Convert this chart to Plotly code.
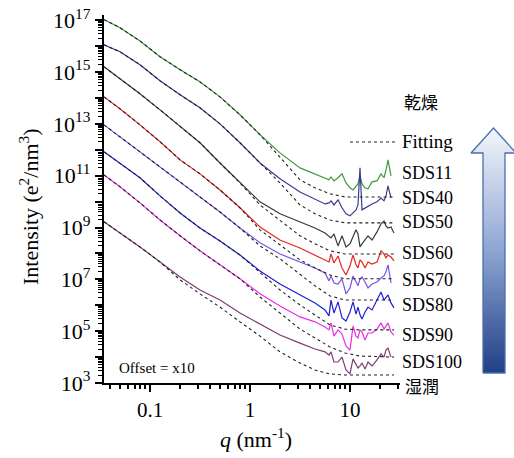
import plotly.graph_objects as go

W, H = 514, 458

# ---- data (q in nm^-1, intensity given as log10 of displayed value, offset x10) ----
q = [0.0347, 0.0501, 0.0794, 0.126, 0.200, 0.316, 0.501, 0.794, 1.259, 1.995, 3.162, 4.467, 5.623,
     6.166, 6.457, 6.918, 7.586, 8.318, 9.120, 10.00, 10.72, 11.48, 12.02, 12.59, 13.18, 14.13,
     15.14, 16.60, 18.62, 20.42, 21.88, 22.91, 23.99, 25.70, 27.54]

sds11 = [17.02, 16.71, 16.20, 15.59, 15.09, 14.62, 14.04, 13.35, 12.58, 11.88, 11.30, 11.07, 10.92,
         10.84, 10.95, 10.80, 10.92, 11.07, 10.72, 10.53, 10.45, 10.61, 10.68, 10.99, 10.68, 10.53,
         10.49, 10.76, 10.80, 11.07, 10.92, 11.22, 11.61, 10.99, None]
sds40 = [16.05, 15.78, 15.28, 14.66, 14.12, 13.62, 13.00, 12.27, 11.49, 10.88, 10.37, 10.10, 9.91,
         9.95, 10.03, 9.87, 10.07, 9.76, 9.53, 9.45, 9.56, 9.68, 9.87, 11.30, 9.68, 9.76,
         9.83, 9.91, 9.99, 10.14, 10.03, 10.22, 10.61, 10.14, None]
sds50 = [15.20, 14.74, 14.16, 13.54, 12.92, 12.27, 11.49, 10.72, 9.99, 9.53, 9.22, 8.98, 8.79,
         8.68, 8.60, 8.75, 8.29, 8.68, 8.25, 8.37, 8.68, 8.91, 8.75, 8.25, 8.37, 8.52,
         8.68, 8.52, 8.83, 9.14, 9.25, 9.06, 8.98, 9.02, 8.79]
sds60 = [14.04, 13.58, 12.96, 12.31, 11.61, 11.07, 10.45, 9.76, 9.02, 8.52, 8.21, 7.94, 7.75,
         7.67, 7.98, 7.63, 7.90, 7.44, 7.17, 7.52, 7.94, 7.56, 7.44, 7.75, 7.67, 7.44,
         7.67, 7.59, 7.67, 8.10, 7.98, 7.83, 7.94, 7.86, 7.71]
sds70 = [12.96, 12.50, 11.92, 11.34, 10.76, 10.18, 9.60, 8.98, 8.41, 7.98, 7.67, 7.44, 7.25,
         6.94, 7.13, 6.86, 6.82, 7.02, 6.44, 6.67, 7.13, 6.86, 6.75, 7.02, 7.09, 6.90,
         6.67, 6.82, 6.90, 7.05, 7.13, 7.29, 7.56, 6.86, None]
sds80 = [11.92, 11.49, 10.92, 10.22, 9.56, 8.98, 8.48, 7.94, 7.32, 6.82, 6.40, 6.09, 5.82,
         5.59, 6.20, 5.70, 6.13, 5.51, 5.39, 5.74, 6.13, 5.66, 5.93, 5.63, 5.47, 5.74,
         5.93, 5.82, 6.20, 6.51, 6.20, 6.32, 6.40, 6.09, 5.90]
sds90 = [11.03, 10.57, 9.95, 9.29, 8.68, 8.10, 7.56, 7.02, 6.44, 5.97, 5.55, 5.36, 5.16,
         5.05, 5.32, 4.81, 5.05, 4.89, 4.43, 4.27, 5.20, 4.81, 4.74, 5.05, 4.97, 4.66,
         4.93, 4.93, 5.08, 5.32, 5.08, 5.20, 5.32, 4.97, 4.85]
sds100 = [9.22, 8.79, 8.25, 7.67, 7.09, 6.59, 6.20, 5.70, 5.28, 4.85, 4.54, 4.31, 4.20,
          4.08, 4.20, 3.81, 3.81, 4.00, 3.50, 3.35, 3.93, 3.73, 3.58, 3.66, 3.77, 3.54,
          3.81, 3.66, 3.89, 4.12, 4.00, 4.27, 4.35, 4.00, None]

q_fit = [0.0347, 0.0501, 0.0794, 0.126, 0.200, 0.316, 0.501, 0.794, 1.259, 1.995, 3.162, 4.467,
         6.310, 8.913, 12.59, 27.54]
fit11 = [17.02, 16.71, 16.20, 15.59, 15.09, 14.62, 14.04, 13.35, 12.58, 11.73, 10.84, 10.53, 10.30, 10.18, 10.18, 10.18]
fit40 = [16.05, 15.78, 15.28, 14.66, 14.12, 13.62, 13.00, 12.27, 11.49, 10.72, 9.87, 9.53, 9.29, 9.18, 9.18, 9.18]
fit50 = [15.20, 14.74, 14.16, 13.54, 12.92, 12.27, 11.49, 10.72, 9.87, 9.29, 8.68, 8.37, 8.10, 7.98, 7.98, 7.98]
fit60 = [14.04, 13.58, 12.96, 12.31, 11.61, 11.07, 10.45, 9.76, 8.91, 8.33, 7.75, 7.44, 7.17, 7.02, 7.02, 7.02]
fit70 = [12.96, 12.50, 11.92, 11.34, 10.76, 10.18, 9.60, 8.98, 8.29, 7.79, 7.21, 6.75, 6.36, 6.20, 6.20, 6.20]
fit80 = [11.92, 11.49, 10.92, 10.22, 9.56, 8.98, 8.48, 7.94, 7.25, 6.59, 6.01, 5.63, 5.24, 5.08, 5.05, 5.05]
fit90 = [11.03, 10.57, 9.95, 9.29, 8.68, 8.10, 7.56, 7.02, 6.32, 5.70, 5.08, 4.74, 4.39, 4.16, 4.04, 4.00]
fit100 = [9.22, 8.79, 8.25, 7.67, 6.98, 6.44, 5.93, 5.36, 4.81, 4.20, 3.77, 3.50, 3.35, 3.31, 3.31, 3.31]

names = ["SDS11", "SDS40", "SDS50", "SDS60", "SDS70", "SDS80", "SDS90", "SDS100"]
series = [sds11, sds40, sds50, sds60, sds70, sds80, sds90, sds100]
fits = [fit11, fit40, fit50, fit60, fit70, fit80, fit90, fit100]
colors = ["#3f9b3f", "#3b3b8f", "#3a3a3a", "#e8261f", "#7b52e6", "#1f1fd6", "#e62ee6", "#7d3c74"]
label_y = [173, 198, 222, 253, 280, 305, 335, 362]  # pixel rows of the right-hand labels

x_ticks = [0.1, 1, 10]
x_ticktext = ["0.1", "1", "10"]
y_exps = list(range(3, 18))

# arrow outline in pixel coordinates of the page
arrow_x = [483, 483, 471, 493.5, 516, 505, 505, 483]
arrow_y = [373, 153, 153, 128, 153, 153, 373, 373]


def px(x):
    return x / W


def py(y):
    return 1 - y / H


def tolin(vals):
    return [None if v is None else 10 ** v for v in vals]


fig = go.Figure()

for s, c in zip(series, colors):
    fig.add_trace(go.Scatter(x=q, y=tolin(s), mode="lines", line=dict(color=c, width=1.2),
                             connectgaps=False, showlegend=False, hoverinfo="skip"))
for f in fits:
    fig.add_trace(go.Scatter(x=q_fit, y=tolin(f), mode="lines",
                             line=dict(color="#222222", width=1.1, dash="3px,3px"),
                             showlegend=False, hoverinfo="skip"))

# gradient arrow on an overlay pixel-space axis
fig.add_trace(go.Scatter(x=arrow_x, y=arrow_y, xaxis="x2", yaxis="y2", mode="lines",
                         fill="toself", line=dict(color="#4a6fb0", width=1.3),
                         fillgradient=dict(type="vertical",
                                           colorscale=[[0, "#203f86"], [0.5, "#8ea5d3"], [1, "#f4f6fb"]]),
                         showlegend=False, hoverinfo="skip"))

minor_x = [m * 10 ** k for k in (-2, -1, 0, 1) for m in range(2, 10)]
minor_x = [v for v in minor_x if 0.0347 <= v <= 31.6]
minor_y = [m * 10 ** k for k in range(3, 17) for m in range(2, 10)]

tickfont = dict(family="Liberation Serif, Times New Roman, serif", size=21, color="black")

fig.update_layout(
    width=W, height=H, autosize=False,
    margin=dict(l=0, r=0, t=0, b=0),
    paper_bgcolor="white", plot_bgcolor="rgba(0,0,0,0)",
    showlegend=False,
    xaxis=dict(type="log", range=[-1.46, 1.5], domain=[px(104), px(400)], anchor="y",
               showline=True, linecolor="black", linewidth=2.2, mirror=False,
               showgrid=False, zeroline=False,
               tickmode="array", tickvals=x_ticks, ticktext=x_ticktext,
               ticks="outside", ticklen=7, tickwidth=2, tickcolor="black",
               minor=dict(ticks="outside", tickmode="array", tickvals=minor_x, ticklen=4,
                          tickwidth=1.5, tickcolor="black", showgrid=False),
               tickfont=tickfont, automargin=False),
    yaxis=dict(type="log", range=[3, 17.2], domain=[py(383), py(15)], anchor="x",
               showline=True, linecolor="black", linewidth=2.2,
               showgrid=False, zeroline=False,
               tickmode="array", tickvals=[10 ** e for e in y_exps],
               ticktext=[f"10<sup>{e}</sup>" if e % 2 == 1 else "" for e in y_exps],
               ticks="outside", ticklen=7, tickwidth=2, tickcolor="black",
               minor=dict(ticks="outside", tickmode="array", tickvals=minor_y, ticklen=4,
                          tickwidth=1.3, tickcolor="black", showgrid=False),
               tickfont=dict(family="Liberation Serif, Times New Roman, serif", size=22, color="black"),
               automargin=False),
    xaxis2=dict(domain=[0, 1], anchor="y2", range=[0, W], visible=False, fixedrange=True),
    yaxis2=dict(domain=[0, 1], anchor="x2", range=[H, 0], visible=False, fixedrange=True),
)

serif = "Liberation Serif, Times New Roman, serif"
cjk = "Noto Sans CJK JP, Noto Sans CJK SC, sans-serif"
ann = []
ann.append(dict(x=px(29), y=py(207), text="Intensity (e<sup>2</sup>/nm<sup>3</sup>)", textangle=-90,
                font=dict(family=serif, size=22, color="black"), showarrow=False,
                xref="paper", yref="paper", xanchor="center", yanchor="middle"))
ann.append(dict(x=px(256), y=py(438), text="<i>q</i> (nm<sup>-1</sup>)",
                font=dict(family=serif, size=22, color="black"), showarrow=False,
                xref="paper", yref="paper", xanchor="center", yanchor="middle"))
ann.append(dict(x=px(117), y=py(368), text="Offset = x10",
                font=dict(family=serif, size=15, color="black"), showarrow=False,
                xref="paper", yref="paper", xanchor="left", yanchor="middle"))
for n, yy in zip(names, label_y):
    ann.append(dict(x=px(400), y=py(yy), text=n, font=dict(family=serif, size=18, color="black"),
                    showarrow=False, xref="paper", yref="paper", xanchor="left", yanchor="middle"))
ann.append(dict(x=px(400), y=py(141), text="Fitting", font=dict(family=serif, size=19, color="black"),
                showarrow=False, xref="paper", yref="paper", xanchor="left", yanchor="middle"))
ann.append(dict(x=px(421), y=py(102), text="乾燥", font=dict(family=cjk, size=17, color="black"),
                showarrow=False, xref="paper", yref="paper", xanchor="center", yanchor="middle"))
ann.append(dict(x=px(422), y=py(385), text="湿潤", font=dict(family=cjk, size=17, color="black"),
                showarrow=False, xref="paper", yref="paper", xanchor="center", yanchor="middle"))
fig.update_layout(annotations=ann)

fig.add_shape(type="line", xref="paper", yref="paper", x0=px(350), x1=px(395), y0=py(142), y1=py(142),
              line=dict(color="#222222", width=1.1, dash="3px,3px"))

fig.write_html("out.html")
